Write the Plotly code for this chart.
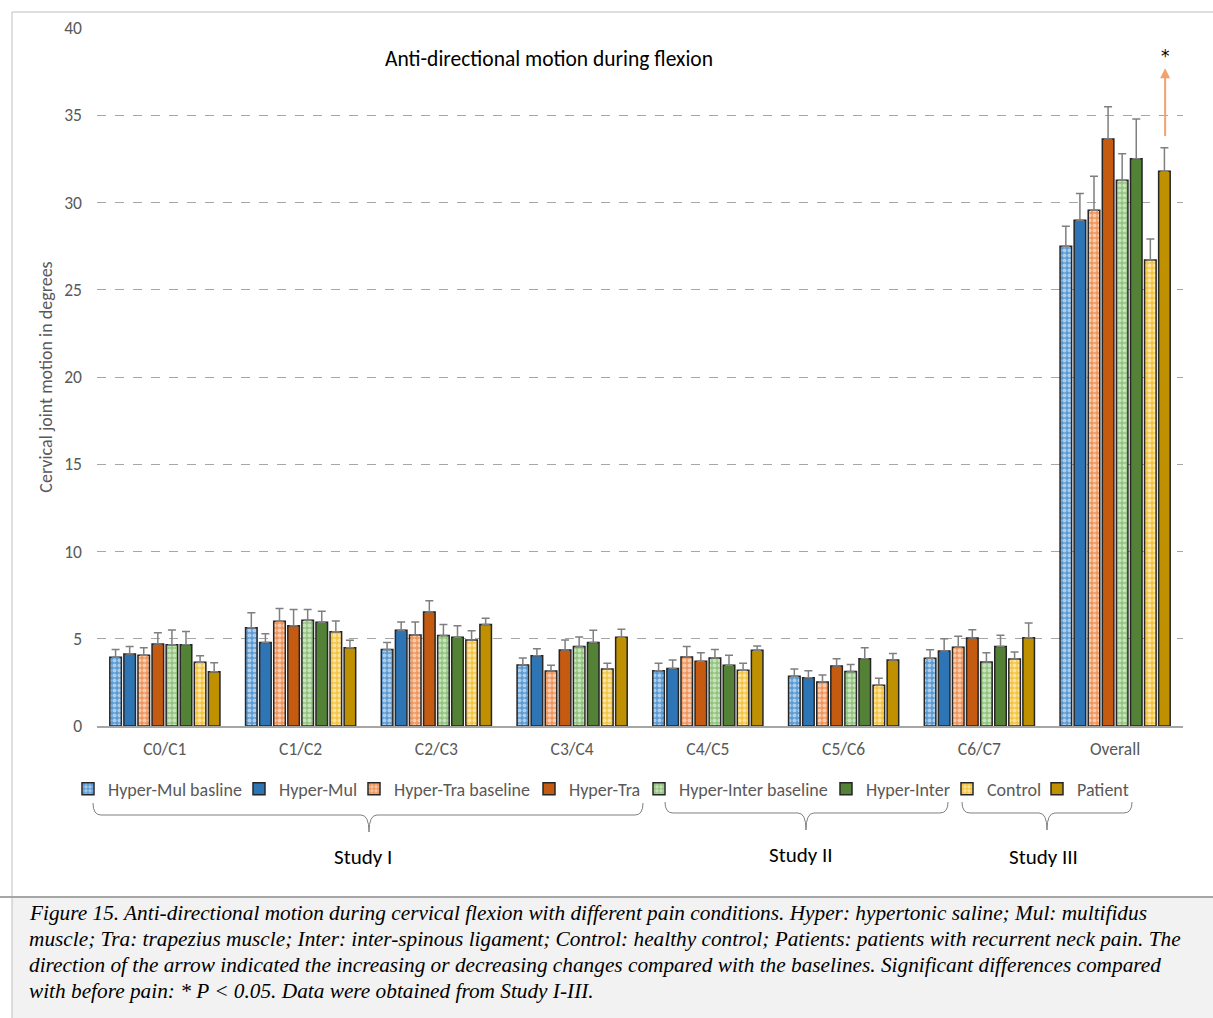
import plotly.graph_objects as go

categories = ["C0/C1", "C1/C2", "C2/C3", "C3/C4", "C4/C5", "C5/C6", "C6/C7", "Overall"]
series_names = ["Hyper-Mul basline", "Hyper-Mul", "Hyper-Tra baseline", "Hyper-Tra",
                "Hyper-Inter baseline", "Hyper-Inter", "Control", "Patient"]

hyper_mul_base = [3.94, 5.63, 4.39, 3.50, 3.17, 2.85, 3.88, 27.49]
hyper_mul = [4.13, 4.79, 5.48, 4.03, 3.30, 2.77, 4.30, 28.98]
hyper_tra_base = [4.05, 6.00, 5.21, 3.15, 3.95, 2.52, 4.51, 29.55]
hyper_tra = [4.70, 5.75, 6.53, 4.36, 3.71, 3.44, 5.04, 33.64]
hyper_inter_base = [4.66, 6.06, 5.18, 4.55, 3.90, 3.13, 3.67, 31.27]
hyper_inter = [4.66, 5.94, 5.08, 4.78, 3.48, 3.86, 4.55, 32.51]
control = [3.65, 5.40, 4.93, 3.27, 3.19, 2.33, 3.84, 26.70]
patient = [3.11, 4.49, 5.81, 5.08, 4.34, 3.78, 5.06, 31.79]

err_hyper_mul_base = [0.45, 0.86, 0.40, 0.40, 0.42, 0.42, 0.49, 1.15]
err_hyper_mul = [0.42, 0.50, 0.48, 0.40, 0.48, 0.40, 0.70, 1.53]
err_hyper_tra_base = [0.44, 0.74, 0.75, 0.33, 0.60, 0.40, 0.63, 1.95]
err_hyper_tra = [0.65, 0.92, 0.65, 0.57, 0.49, 0.42, 0.48, 1.85]
err_hyper_inter_base = [0.84, 0.61, 0.63, 0.55, 0.49, 0.40, 0.53, 1.53]
err_hyper_inter = [0.76, 0.63, 0.67, 0.70, 0.57, 0.63, 0.65, 2.27]
err_control = [0.38, 0.62, 0.53, 0.32, 0.40, 0.40, 0.40, 1.21]
err_patient = [0.52, 0.42, 0.36, 0.46, 0.24, 0.37, 0.84, 1.35]

values = [hyper_mul_base, hyper_mul, hyper_tra_base, hyper_tra,
          hyper_inter_base, hyper_inter, control, patient]
errors = [err_hyper_mul_base, err_hyper_mul, err_hyper_tra_base, err_hyper_tra,
          err_hyper_inter_base, err_hyper_inter, err_control, err_patient]

# significance arrow (Overall, Patient)
arrow_tail = 33.73
arrow_head = 37.69
star_y = 38.4

colors = ["#5B9BD5", "#2E75B6", "#F0965C", "#C55A11", "#93C47D", "#538135", "#F5C542", "#BF9000"]
patterned = [True, False, True, False, True, False, True, False]
# legend text start positions (px) for each series
legend_text_x = [107, 278, 393, 568, 678, 865, 986, 1076]

FONT = "Carlito, Lato, sans-serif"
W, H = 1213, 1018
L, R, T, B = 97, 1183, 28, 726


def pxx(p):
    return (p - L) / (R - L)


def pxy(p):
    return (B - p) / (B - T)


fig = go.Figure()
legend_layouts = {}
for i, (name, vals, errs, col, pat) in enumerate(zip(series_names, values, errors, colors, patterned)):
    marker = dict(color=col, line=dict(color="#262626", width=1.5))
    if pat:
        marker = dict(color=col, line=dict(color="#262626", width=1.5),
                      pattern=dict(shape=".", fgcolor="white", bgcolor=col, size=5, solidity=0.5))
    lg = "legend" if i == 0 else f"legend{i + 1}"
    fig.add_trace(go.Bar(
        name=name, x=list(range(len(categories))), y=vals, marker=marker, legend=lg,
        error_y=dict(type="data", symmetric=False, array=errs, arrayminus=[0] * len(errs),
                     color="#7F7F7F", thickness=1.5, width=4),
    ))
    legend_layouts[lg] = dict(orientation="h", x=pxx(legend_text_x[i] - 39), y=pxy(789),
                              xanchor="left", yanchor="middle",
                              font=dict(family=FONT, size=18, color="#595959"), itemwidth=30,
                              bgcolor="rgba(0,0,0,0)", borderwidth=0)

shapes = []
shapes.append(dict(type="line", xref="paper", yref="paper", x0=pxx(12), x1=pxx(W), y0=pxy(12), y1=pxy(12),
                   line=dict(color="#BFBFBF", width=1)))
shapes.append(dict(type="line", xref="paper", yref="paper", x0=pxx(12), x1=pxx(12), y0=pxy(12), y1=pxy(H),
                   line=dict(color="#BFBFBF", width=1)))
shapes.append(dict(type="rect", xref="paper", yref="paper", x0=pxx(12), x1=pxx(W), y0=pxy(898), y1=pxy(H),
                   fillcolor="#F2F2F2", line=dict(width=0), layer="below"))
shapes.append(dict(type="line", xref="paper", yref="paper", x0=pxx(0), x1=pxx(W), y0=pxy(897), y1=pxy(897),
                   line=dict(color="#A6A6A6", width=2)))


def brace(x1, x2, xm, yt, ym, ytip):
    r = 8
    a = lambda px: f"{pxx(px):.5f}"
    b = lambda py: f"{pxy(py):.5f}"
    path = (f"M {a(x1)},{b(yt)} Q {a(x1)},{b(ym)} {a(x1 + r)},{b(ym)} "
            f"L {a(xm - r)},{b(ym)} Q {a(xm)},{b(ym)} {a(xm)},{b(ytip)} "
            f"Q {a(xm)},{b(ym)} {a(xm + r)},{b(ym)} L {a(x2 - r)},{b(ym)} "
            f"Q {a(x2)},{b(ym)} {a(x2)},{b(yt)}")
    return dict(type="path", xref="paper", yref="paper", path=path, line=dict(color="#7F7F7F", width=1))


shapes.append(brace(93, 643, 369, 803, 815, 832))
shapes.append(brace(665, 948, 806, 802, 813, 830))
shapes.append(brace(962, 1132, 1047, 802, 813, 830))

annotations = []
annotations.append(dict(xref="paper", yref="paper", x=pxx(549), y=pxy(59), text="Anti-directional motion during flexion",
                        showarrow=False, font=dict(family=FONT, size=21.5, color="#000000"),
                        xanchor="center", yanchor="middle"))
for txt, xp, yp in [("Study I", 363, 857), ("Study II", 801, 855), ("Study III", 1043, 857)]:
    annotations.append(dict(xref="paper", yref="paper", x=pxx(xp), y=pxy(yp), text=txt, showarrow=False,
                            font=dict(family=FONT, size=21, color="#000000"), xanchor="center", yanchor="middle"))

annotations.append(dict(xref="x", yref="y", axref="x", ayref="y", x=7, y=arrow_head, ax=7, ay=arrow_tail,
                        xshift=50, text="", showarrow=True, arrowhead=2, arrowsize=1, arrowwidth=2,
                        arrowcolor="#F4A26B"))
annotations.append(dict(xref="x", yref="y", x=7, y=star_y, xshift=50, text="*", showarrow=False,
                        font=dict(family="DejaVu Sans, sans-serif", size=17, color="#000000"), yanchor="middle"))

caption = [
    "Figure 15. Anti-directional motion during cervical flexion with different pain conditions. Hyper: hypertonic saline; Mul: multifidus",
    "muscle; Tra: trapezius muscle; Inter: inter-spinous ligament; Control: healthy control; Patients: patients with recurrent neck pain. The",
    "direction of the arrow indicated the increasing or decreasing changes compared with the baselines. Significant differences compared",
    "with before pain: * P &lt; 0.05. Data were obtained from Study I-III.",
]
for i, line in enumerate(caption):
    annotations.append(dict(xref="paper", yref="paper", x=pxx(27), y=pxy(913 + 26 * i), text=f"<i>{line}</i>",
                            showarrow=False, xanchor="left", yanchor="middle",
                            font=dict(family="Liberation Serif, Times New Roman, serif", size=21.3, color="#000000")))

fig.update_layout(
    width=W, height=H,
    margin=dict(l=L, r=W - R, t=T, b=H - B),
    paper_bgcolor="white", plot_bgcolor="white",
    barmode="group", bargap=0.17, bargroupgap=0.18,
    font=dict(family=FONT, size=17, color="#595959"),
    showlegend=True,
    xaxis=dict(tickmode="array", tickvals=list(range(len(categories))), ticktext=categories,
               range=[-0.5, len(categories) - 0.5], showline=True, linecolor="#A6A6A6", linewidth=1.5,
               showgrid=False, ticks="", tickfont=dict(size=17.5, color="#595959"), zeroline=False,
               ticklabelstandoff=6),
    yaxis=dict(range=[0, 40], dtick=5, showgrid=True, gridcolor="#A6A6A6", griddash="dash", gridwidth=1,
               zeroline=False, showline=False, ticks="", tickfont=dict(size=17.5, color="#595959"),
               ticklabelstandoff=14,
               title=dict(text="Cervical joint motion in degrees", font=dict(size=18, color="#595959"), standoff=6)),
    shapes=shapes, annotations=annotations,
    **legend_layouts,
)

fig.write_html("out.html", post_script="document.body.style.margin='0';", config={"displayModeBar": False})
